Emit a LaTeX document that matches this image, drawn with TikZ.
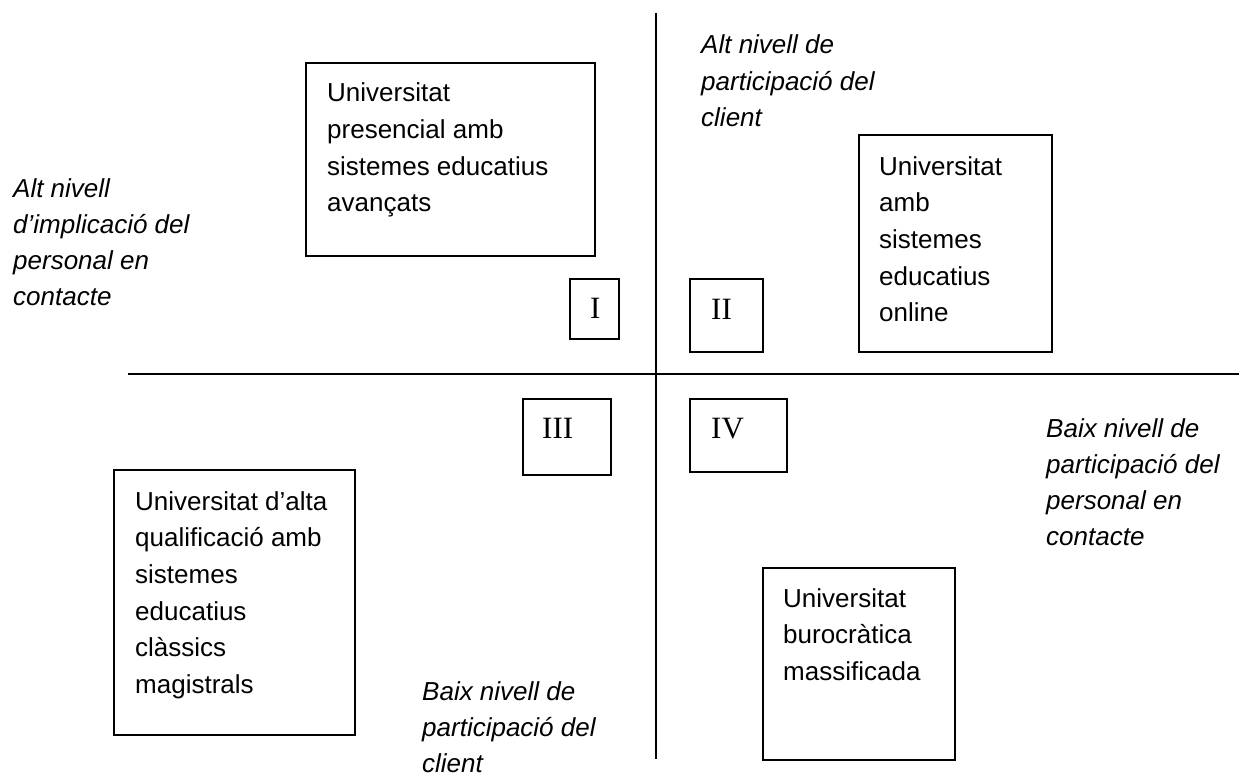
\documentclass[tikz,border=0pt]{standalone}
\usepackage{fontspec}
\setmainfont{Liberation Sans}
\newfontfamily\numeralfont{Liberation Serif}
% multi-line text block whose baseline is that of its first line
\newcommand\stacked[1]{\parbox[t]{330pt}{\raggedright #1}}
\begin{document}
\begin{tikzpicture}[x=1pt,y=-1pt,
  quadbox/.style={draw,line width=1.6pt,inner sep=0pt,anchor=north west},
  boxtext/.style={anchor=base west,inner sep=0pt,font=\fontsize{26}{36.7}\selectfont},
  axislabel/.style={anchor=base west,inner sep=0pt,font=\fontsize{26}{36.2}\selectfont\itshape},
  numeral/.style={anchor=base west,inner sep=0pt,font=\numeralfont\fontsize{31}{31}\selectfont},
  axis/.style={line width=2pt}]
\useasboundingbox (0,0) rectangle (1239,776);

% axes
\coordinate (vtop) at (656,13);
\coordinate (vbot) at (656,759);
\coordinate (hleft) at (128,374);
\coordinate (hright) at (1239,374);
\draw[axis] (vtop) -- (vbot);
\draw[axis] (hleft) -- (hright);

% university boxes
\node[quadbox,minimum width=289pt,minimum height=193pt] (presencial) at (305,62) {};
\node[quadbox,minimum width=193pt,minimum height=217pt] (online) at (858,134) {};
\node[quadbox,minimum width=241pt,minimum height=265pt] (classica) at (113,469) {};
\node[quadbox,minimum width=192pt,minimum height=192pt] (burocratica) at (762,567) {};

\node[boxtext] (presencialtxt) at (327,101.7) {\stacked{Universitat\\presencial amb\\sistemes educatius\\avançats}};
\node[boxtext] (onlinetxt) at (879,175) {\stacked{Universitat\\amb\\sistemes\\educatius\\online}};
\node[boxtext] (classicatxt) at (135,510) {\stacked{Universitat d’alta\\qualificació amb\\sistemes\\educatius\\clàssics\\magistrals}};
\node[boxtext] (burocraticatxt) at (783,607) {\stacked{Universitat\\burocràtica\\massificada}};

% quadrant markers
\node[quadbox,minimum width=49pt,minimum height=60pt] (qI) at (569,278) {};
\node[quadbox,minimum width=73pt,minimum height=73pt] (qII) at (689,278) {};
\node[quadbox,minimum width=88pt,minimum height=76pt] (qIII) at (522,398) {};
\node[quadbox,minimum width=97pt,minimum height=73pt] (qIV) at (689,398) {};
\node[numeral] (nI) at (590,318) {I};
\node[numeral] (nII) at (711,319) {II};
\node[numeral] (nIII) at (542,438) {III};
\node[numeral] (nIV) at (711,438) {IV};

% axis labels
\node[axislabel] (altclient) at (701,54) {\stacked{Alt nivell de\\participació del\\client}};
\node[axislabel] (altpersonal) at (13,197) {\stacked{Alt nivell\\d’implicació del\\personal en\\contacte}};
\node[axislabel] (baixclient) at (422,700) {\stacked{Baix nivell de\\participació del\\client}};
\node[axislabel] (baixpersonal) at (1046,437) {\stacked{Baix nivell de\\participació del\\personal en\\contacte}};
\end{tikzpicture}
\end{document}
